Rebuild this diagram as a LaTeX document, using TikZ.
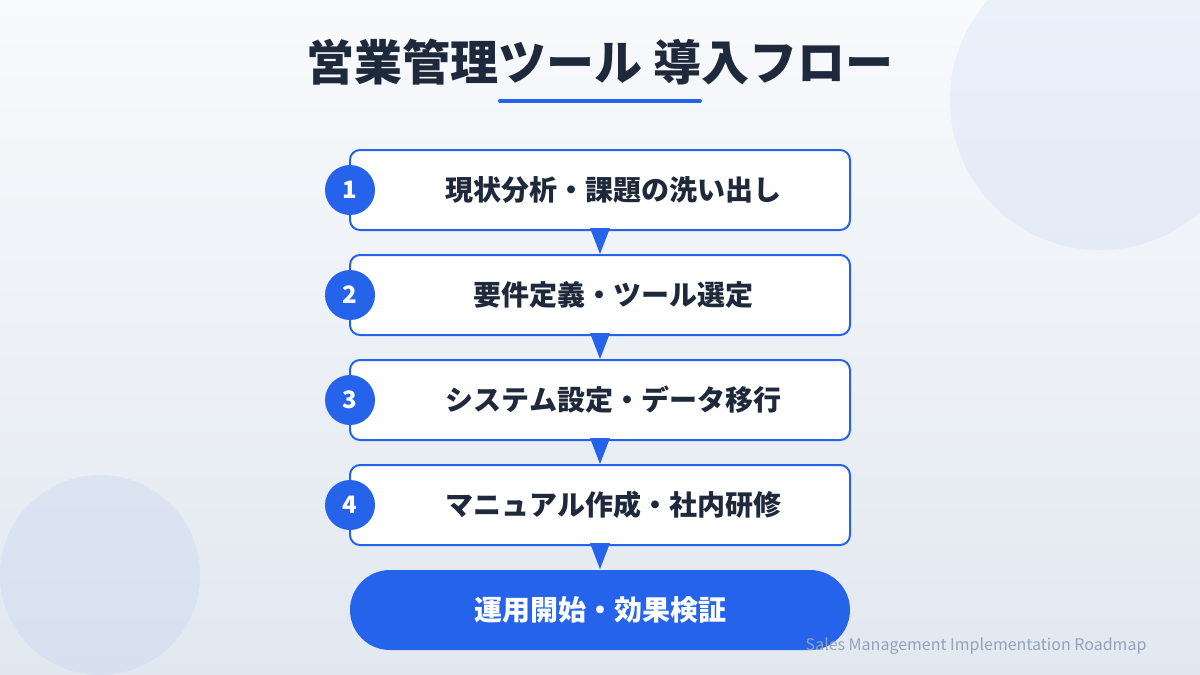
\documentclass[tikz,border=0pt]{standalone}
\usepackage{fontspec}
\newfontfamily\cjk{Noto Sans CJK JP}
\usepackage{tikz}
\usetikzlibrary{positioning}
\usepackage{xcolor}
\definecolor{flowblue}{HTML}{2563EB}
\definecolor{inkdark}{HTML}{1E293B}
\definecolor{capgray}{HTML}{94A3B8}
\definecolor{bgtop}{HTML}{F8FAFC}
\definecolor{bgbottom}{HTML}{E2E8F0}
\tikzset{%
	flow step/.style={
		draw=flowblue,
		line width=2pt,
		fill=white,
		rounded corners=10pt,
		minimum width=500pt,
		minimum height=80pt,
		inner sep=0pt,
		outer sep=0pt,
		text=inkdark,
		font=\cjk\bfseries\fontsize{28}{32}\selectfont
	},
	flow final/.style={
		flow step,
		draw=none,
		fill=flowblue,
		rounded corners=40pt,
		text=white
	},
	flow number/.style={
		circle,
		fill=flowblue,
		minimum size=50pt,
		inner sep=0pt,
		text=white,
		font=\cjk\bfseries\fontsize{24}{28}\selectfont
	},
	flow arrow/.style={
		fill=flowblue
	},
}
\begin{document}
\begin{tikzpicture}[x=1pt, y=-1pt]
				% Background
				\useasboundingbox (0,0) rectangle (1200,675);
				\shade[top color=bgtop, bottom color=bgbottom] (0,0) rectangle (1200,675);
				\begin{scope}
					\clip (0,0) rectangle (1200,675);
					\fill[flowblue, opacity=0.06] (1100,100) circle (150pt);
					\fill[flowblue, opacity=0.06] (100,575) circle (100pt);
				\end{scope}
				% Title
				\node[font=\cjk\bfseries\fontsize{48}{56}\selectfont,
				text=inkdark] (Title) at (600,62) {営業管理ツール 導入フロー};
				\draw[flowblue, line width=4pt, line cap=round] (500,101) -- (700,101);
				% Steps
				\node[flow step] (Step-1) at (600,190) {\hspace*{27pt}現状分析・課題の洗い出し};
				\foreach \i/\j/\txt in {2/1/要件定義・ツール選定,
					3/2/システム設定・データ移行,
					4/3/マニュアル作成・社内研修}
				{
					\node[flow step, below=25pt of Step-\j] (Step-\i) {\hspace*{27pt}\txt};
				}
				\node[flow final, below=25pt of Step-4] (Step-5) {運用開始・効果検証};
				% Numbers
				\foreach \i in {1,...,4}
				{
					\node[flow number] (Num-\i) at (Step-\i.west) {\i};
				}
				% Connect steps
				\foreach \i in {1,...,4}
				{
					\pgfmathtruncatemacro\j{\i+1}
					\fill[flow arrow] ([xshift=-10pt, yshift=2pt]Step-\i.south)
					-- ([xshift=10pt, yshift=2pt]Step-\i.south)
					-- ([yshift=1pt]Step-\j.north) -- cycle;
				}
				% Caption
				\node[anchor=base east,
				font=\cjk\fontsize{16}{20}\selectfont,
				text=capgray] (Caption) at (1150,650) {Sales Management Implementation Roadmap};
			\end{tikzpicture}
\end{document}
